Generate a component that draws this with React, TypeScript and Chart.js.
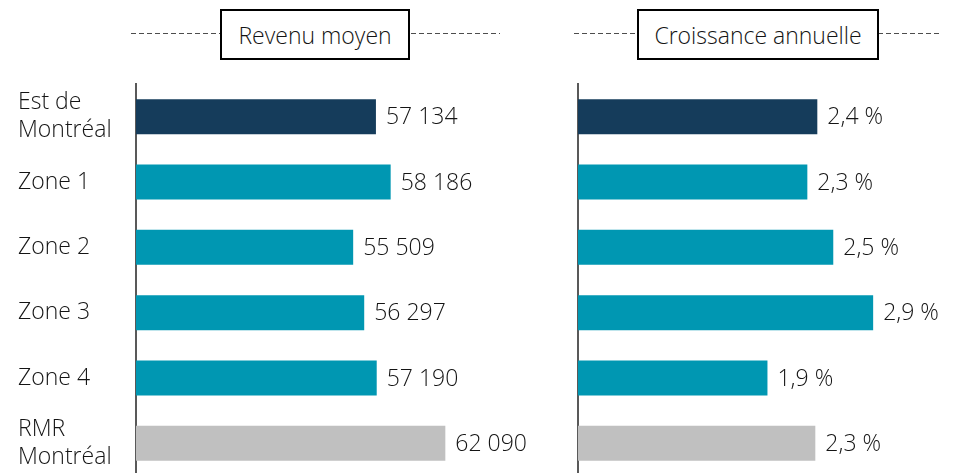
import React, { useEffect, useRef } from "react";
import { Chart, registerables } from "chart.js";

Chart.register(...registerables);

const categories: (string | string[])[] = [
  ["Est de", "Montréal"],
  "Zone 1",
  "Zone 2",
  "Zone 3",
  "Zone 4",
  ["RMR", "Montréal"],
];
const revenuValues = [57134, 58186, 55509, 56297, 57190, 62090];
const revenuLabels = ["57 134", "58 186", "55 509", "56 297", "57 190", "62 090"];
const croissanceValues = [2.4, 2.3, 2.56, 2.96, 1.9, 2.38];
const croissanceLabels = ["2,4 %", "2,3 %", "2,5 %", "2,9 %", "1,9 %", "2,3 %"];
const barColors = ["#153c5b", "#0097b2", "#0097b2", "#0097b2", "#0097b2", "#c0c0c0"];

const FONT = "'Open Sans', 'Noto Sans', sans-serif";
const FONT_SIZE = 23;
const TEXT_COLOR = "#141414";

function valueLabelPlugin(labels: string[]) {
  return {
    id: "valueLabels",
    afterDatasetsDraw(chart: any) {
      const ctx = chart.ctx;
      const meta = chart.getDatasetMeta(0);
      ctx.save();
      ctx.font = `300 ${FONT_SIZE}px ${FONT}`;
      ctx.fillStyle = TEXT_COLOR;
      ctx.textAlign = "left";
      ctx.textBaseline = "middle";
      meta.data.forEach((bar: any, i: number) => {
        ctx.fillText(labels[i], bar.x + 10, bar.y + 1);
      });
      ctx.restore();
    },
  };
}

function makeConfig(
  values: number[],
  labels: string[],
  min: number,
  max: number,
  showTicks: boolean,
  padding: any,
  axisWidth: number
): any {
  return {
    type: "bar",
    data: {
      labels: categories,
      datasets: [
        {
          data: values,
          backgroundColor: barColors,
          borderWidth: 0,
          categoryPercentage: 1,
          barPercentage: 0.535,
        },
      ],
    },
    options: {
      indexAxis: "y",
      animation: false,
      responsive: false,
      maintainAspectRatio: false,
      layout: { padding },
      plugins: {
        legend: { display: false },
        tooltip: { enabled: false },
        title: { display: false },
      },
      scales: {
        x: {
          display: false,
          min,
          max,
        },
        y: {
          display: true,
          grid: { display: false },
          border: { display: true, color: "#595959", width: 2 },
          afterFit: (s: any) => {
            s.width = axisWidth;
            s.paddingTop = 0;
            s.paddingBottom = 0;
          },
          ticks: {
            display: showTicks,
            crossAlign: "far",
            padding: 0,
            color: TEXT_COLOR,
            font: { family: FONT, size: FONT_SIZE, weight: 300, lineHeight: 1.2 },
          },
        },
      },
    },
    plugins: [valueLabelPlugin(labels)],
  };
}

function TitleBox({ text, left, width, lineLeft, lineRight }: any) {
  return (
    <>
      <svg
        style={{ position: "absolute", left: 0, top: 0 }}
        width={959}
        height={60}
      >
        <line
          x1={lineLeft}
          x2={lineRight}
          y1={33.5}
          y2={33.5}
          stroke="#4d4d4d"
          strokeWidth={1}
          strokeDasharray="5 3"
        />
      </svg>
      <div
        style={{
          position: "absolute",
          left,
          top: 9,
          width,
          height: 51,
          boxSizing: "border-box",
          border: "2px solid #000",
          background: "#fff",
          display: "flex",
          alignItems: "center",
          justifyContent: "center",
          fontFamily: FONT,
          fontWeight: 300,
          fontSize: FONT_SIZE,
          color: TEXT_COLOR,
          whiteSpace: "nowrap",
        }}
      >
        {text}
      </div>
    </>
  );
}

export default function App() {
  const leftRef = useRef<HTMLCanvasElement>(null);
  const rightRef = useRef<HTMLCanvasElement>(null);

  useEffect(() => {
    const left = new Chart(
      leftRef.current as HTMLCanvasElement,
      makeConfig(revenuValues, revenuLabels, 40000, 69850, true, { top: 84, left: 18, right: 6, bottom: 0 }, 118)
    );
    const right = new Chart(
      rightRef.current as HTMLCanvasElement,
      makeConfig(croissanceValues, croissanceLabels, 0, 3.5, false, { top: 84, left: 38, right: 32, bottom: 0 }, 0)
    );
    return () => {
      left.destroy();
      right.destroy();
    };
  }, []);

  return (
    <div
      style={{
        position: "fixed",
        left: 0,
        top: 0,
        width: 959,
        height: 476,
        background: "#fff",
        overflow: "hidden",
      }}
    >
      <canvas
        ref={leftRef}
        width={560}
        height={476}
        style={{ position: "absolute", left: 0, top: 0 }}
      />
      <canvas
        ref={rightRef}
        width={419}
        height={476}
        style={{ position: "absolute", left: 540, top: 0 }}
      />
      <TitleBox text="Revenu moyen" left={220} width={190} lineLeft={131} lineRight={500} />
      <TitleBox text="Croissance annuelle" left={637} width={242} lineLeft={574} lineRight={942} />
    </div>
  );
}
